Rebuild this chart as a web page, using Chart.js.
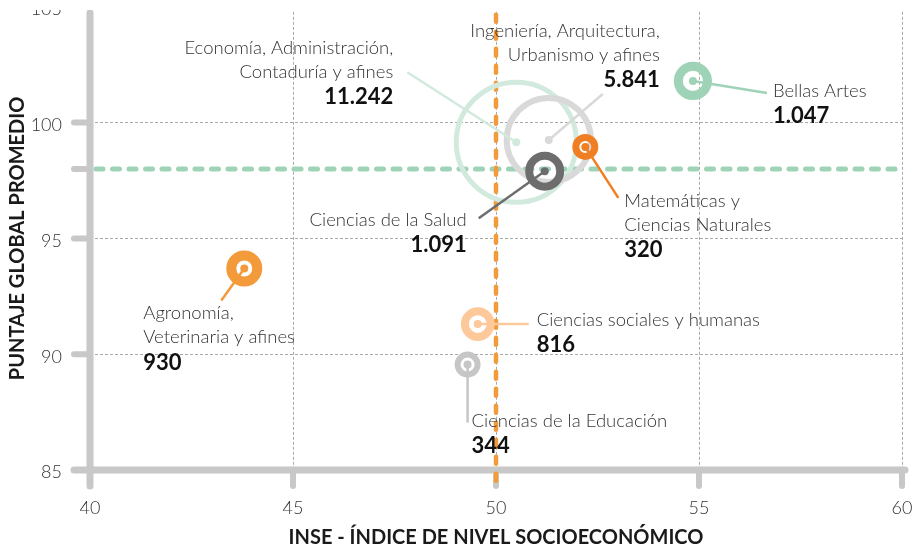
<!DOCTYPE html>
<html>
<head>
<meta charset="utf-8">
<script src="https://cdn.jsdelivr.net/npm/chart.js@4.4.1/dist/chart.umd.min.js"></script>
<style>
  html, body { margin: 0; padding: 0; background: #fff; overflow: hidden; }
  #wrap { position: relative; width: 920px; height: 550px; overflow: hidden; }
  #wrap canvas { position: absolute; left: 0; top: -4px; }
</style>
</head>
<body>
<div id="wrap"><canvas id="inseChart" width="920" height="554"></canvas></div>
<script>
// areas de conocimiento (nombre partido en lineas como en la grafica)
var areas = [
  ['Economía, Administración,', 'Contaduría y afines'],
  ['Ingeniería, Arquitectura,', 'Urbanismo y afines'],
  ['Ciencias de la Salud'],
  ['Matemáticas y', 'Ciencias Naturales'],
  ['Bellas Artes'],
  ['Agronomía,', 'Veterinaria y afines'],
  ['Ciencias sociales y humanas'],
  ['Ciencias de la Educación']
];
var inse = [50.5, 51.3, 51.2, 52.2, 54.85, 43.8, 49.55, 49.3];
var puntaje = [99.15, 99.25, 97.9, 98.95, 101.8, 93.7, 91.3, 89.55];
var estudiantes = [11242, 5841, 1091, 320, 1047, 930, 816, 344];

var inseAvg = 50;
var puntajeAvg = 98;

// estilos
var colors = ['#d2eadd', '#d9d9d9', '#6d6d6d', '#ef7f22', '#9ed3b7', '#f39a3b', '#fdc99b', '#c6c6c6'];
var ringWidths = [5, 6, 8, 7, 9, 10, 8, 6];
// posicion de textos y lineas guia, en px relativos al centro de cada burbuja
var labelPos = [
  {dx: -123, dy: -94, align: 'right'},
  {dx: 111, dy: -109, align: 'right'},
  {dx: -78, dy: 49, align: 'right'},
  {dx: 39, dy: 54, align: 'left'},
  {dx: 80, dy: 10, align: 'left'},
  {dx: -101, dy: 45, align: 'left'},
  {dx: 59, dy: -4, align: 'left'},
  {dx: 4, dy: 56, align: 'left'}
];
var leaderEnd = [[-109, -70], [54, -46], [-66, 47], [33, 51], [74, 12], [-23, 32], [51, 0], [0, 58]];

var FONT = 'Lato, "Open Sans", sans-serif';
var AXIS_GRAY = '#c8c8c8';
var CLEAR = 'rgba(0,0,0,0)';

function fmt(n) {
  return String(n).replace(/\B(?=(\d{3})+(?!\d))/g, '.');
}

function ringRadius(n, i) {
  var outer = Math.max(13, 0.59 * Math.sqrt(n));
  return outer - ringWidths[i] / 2;
}

var points = estudiantes.map(function (n, i) {
  return {x: inse[i], y: puntaje[i], r: ringRadius(n, i)};
});

function seg(ctx, x1, y1, x2, y2) {
  ctx.beginPath();
  ctx.moveTo(x1, y1);
  ctx.lineTo(x2, y2);
  ctx.stroke();
}

// ejes gruesos, marcas y lineas de promedio (debajo de las burbujas)
var axisPlugin = {
  id: 'axisBars',
  beforeDatasetsDraw: function (chart) {
    var ctx = chart.ctx, xs = chart.scales.x, ys = chart.scales.y, area = chart.chartArea;
    var x0 = xs.getPixelForValue(xs.min), x1 = xs.getPixelForValue(xs.max);
    var y0 = ys.getPixelForValue(ys.min);
    var tick = 16;
    ctx.save();
    ctx.strokeStyle = AXIS_GRAY;
    ctx.lineCap = 'round';
    ctx.lineWidth = 7;
    seg(ctx, x0, area.top + 6, x0, y0 + tick);
    seg(ctx, x0 - tick, y0, x1 + 3, y0);
    ctx.lineWidth = 6;
    ys.ticks.forEach(function (t) {
      if (t.value >= ys.max) return;
      var py = ys.getPixelForValue(t.value);
      seg(ctx, x0 - tick, py, x0, py);
    });
    var pAvg = ys.getPixelForValue(puntajeAvg);
    seg(ctx, x0 - tick, pAvg, x0, pAvg);
    xs.ticks.forEach(function (t) {
      var px = xs.getPixelForValue(t.value);
      seg(ctx, px, y0, px, y0 + tick);
    });

    // promedio puntaje
    ctx.strokeStyle = '#9fd3b7';
    ctx.lineWidth = 5;
    ctx.setLineDash([7, 9.5]);
    seg(ctx, x0 + 6, pAvg, x1 + 2, pAvg);
    // promedio INSE
    var iAvg = xs.getPixelForValue(inseAvg);
    ctx.strokeStyle = '#f39a3b';
    ctx.lineWidth = 4.5;
    ctx.setLineDash([7, 10]);
    seg(ctx, iAvg, area.top + 8, iAvg, y0 + tick + 1);
    ctx.restore();
  }
};

// puntos centrales, lineas guia y textos
var labelPlugin = {
  id: 'bubbleLabels',
  afterDatasetsDraw: function (chart) {
    var ctx = chart.ctx;
    var meta = chart.getDatasetMeta(0);
    ctx.save();
    meta.data.forEach(function (el, i) {
      var cx = el.x, cy = el.y;
      ctx.strokeStyle = colors[i];
      ctx.fillStyle = colors[i];
      ctx.lineWidth = 2.5;
      ctx.lineCap = 'butt';
      seg(ctx, cx, cy, cx + leaderEnd[i][0], cy + leaderEnd[i][1]);
      ctx.beginPath();
      ctx.arc(cx, cy, 4, 0, Math.PI * 2);
      ctx.fill();

      var lp = labelPos[i];
      var tx = cx + lp.dx, ty = cy + lp.dy;
      ctx.textAlign = lp.align;
      ctx.textBaseline = 'middle';
      ctx.fillStyle = '#333333';
      ctx.font = '300 18.5px ' + FONT;
      areas[i].forEach(function (line, k) {
        ctx.fillText(line, tx, ty + k * 24);
      });
      ctx.fillStyle = '#111111';
      ctx.font = 'bold 22px ' + FONT;
      ctx.fillText(fmt(estudiantes[i]), tx, ty + areas[i].length * 24 + 1);
    });
    ctx.restore();
  }
};

// el borde superior de la grafica original esta recortado
var topCrop = {
  id: 'topCrop',
  afterDraw: function (chart) {
    var ctx = chart.ctx;
    ctx.save();
    ctx.fillStyle = '#ffffff';
    ctx.fillRect(0, 0, chart.width, 14);
    ctx.restore();
  }
};

function gridColor(c) {
  return c.tick && c.tick.value === 105 ? CLEAR : '#a9a9a9';
}

var ctx = document.getElementById('inseChart').getContext('2d');

var myBubbleChart = new Chart(ctx, {
  type: 'bubble',
  data: {
    datasets: [{
      label: 'Estudiantes',
      data: points,
      backgroundColor: CLEAR,
      borderColor: colors,
      borderWidth: ringWidths,
      hoverBorderWidth: ringWidths
    }]
  },
  options: {
    responsive: false,
    animation: false,
    events: [],
    layout: {autoPadding: false, padding: {top: 0, right: 18, bottom: 0, left: 0}},
    plugins: {
      legend: {display: false},
      tooltip: {enabled: false}
    },
    scales: {
      x: {
        type: 'linear',
        min: 40,
        max: 60,
        afterFit: function (s) { s.height = 80; },
        ticks: {stepSize: 5, padding: 0, color: '#333', font: {family: FONT, size: 18, weight: '300'}},
        grid: {color: gridColor, lineWidth: 1, drawTicks: true, tickLength: 27, tickColor: CLEAR},
        border: {display: false, dash: [3, 2]},
        title: {
          display: true,
          text: 'INSE - ÍNDICE DE NIVEL SOCIOECONÓMICO',
          color: '#1a1a1a',
          font: {family: FONT, size: 20, weight: 'bold'},
          padding: {top: 0, bottom: 0}
        }
      },
      y: {
        type: 'linear',
        min: 85,
        max: 105,
        afterFit: function (s) { s.width = 90; },
        ticks: {stepSize: 5, padding: 0, labelOffset: 2.5, color: '#333', font: {family: FONT, size: 18, weight: '300'}},
        grid: {color: gridColor, lineWidth: 1, drawTicks: true, tickLength: 28, tickColor: CLEAR},
        border: {display: false, dash: [3, 2]},
        title: {
          display: true,
          text: 'PUNTAJE GLOBAL PROMEDIO',
          color: '#1a1a1a',
          font: {family: FONT, size: 20, weight: 'bold'},
          padding: {top: 6, bottom: 0}
        }
      }
    }
  },
  plugins: [axisPlugin, labelPlugin, topCrop]
});
</script>
</body>
</html>
